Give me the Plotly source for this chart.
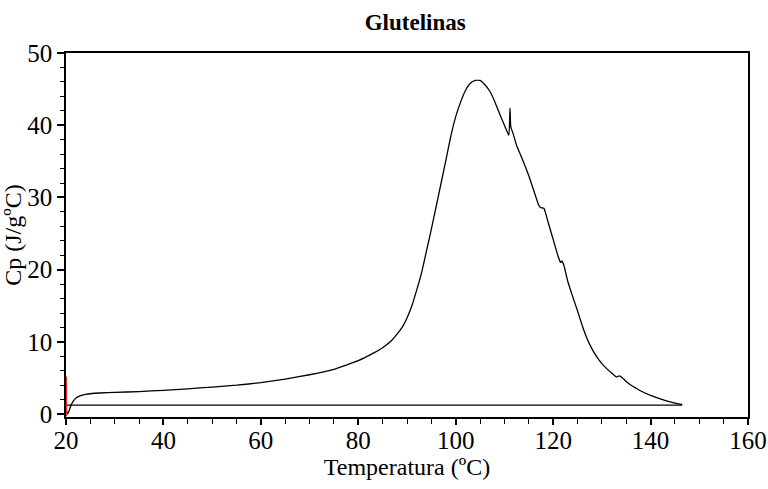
import plotly.graph_objects as go

# Cp curve
temp = [20.0, 20.15, 20.35, 20.6, 21.0, 21.5, 22.0, 23.0, 24.0, 25.0, 27.0, 30.0,
        35.0, 40.0, 45.0, 50.0, 55.0, 60.0, 65.0, 70.0, 75.0, 80.0, 83.0, 85.0,
        87.0, 89.0, 90.0, 91.0, 92.0, 93.0, 94.0, 95.0, 96.0, 97.0, 98.0, 99.0,
        100.0, 101.0, 102.0, 103.0, 104.0, 105.0, 106.0, 107.0, 108.0, 109.0,
        110.0, 110.9, 111.15, 111.3, 111.8, 112.5, 113.5, 115.0, 116.0, 117.0,
        117.4, 118.1, 119.0, 120.0, 121.0, 121.5, 121.8, 122.2, 123.0, 124.0,
        125.0, 126.0, 127.0, 128.0, 129.0, 130.0, 131.0, 132.0, 133.0, 133.6,
        134.2, 135.0, 136.0, 137.0, 138.0, 140.0, 142.0, 144.0, 146.5]
cp = [1.0, 0.3, 0.05, 0.4, 1.2, 1.8, 2.2, 2.55, 2.72, 2.82, 2.92, 3.0,
      3.12, 3.3, 3.5, 3.75, 4.0, 4.35, 4.85, 5.45, 6.2, 7.4, 8.4, 9.2,
      10.3, 12.0, 13.3, 15.0, 17.2, 19.6, 22.6, 25.6, 28.8, 32.0, 35.2, 38.5,
      41.2, 43.2, 44.8, 45.8, 46.2, 46.2, 45.6, 44.7, 43.3, 41.6,
      40.0, 38.6, 42.4, 39.8, 38.8, 37.2, 35.6, 33.0, 31.0, 29.0,
      28.6, 28.5, 26.5, 24.2, 21.9, 21.0, 21.2, 20.6, 18.4, 16.3,
      14.3, 12.2, 10.4, 9.0, 7.9, 7.0, 6.3, 5.7, 5.15, 5.3,
      5.05, 4.5, 4.0, 3.6, 3.2, 2.6, 2.1, 1.7, 1.3]

baseline_x = [20.0, 146.5]
baseline_y = [1.25, 1.25]

marker_x = [20.0, 20.0]
marker_y = [-0.3, 5.2]

x_ticks = [20, 40, 60, 80, 100, 120, 140, 160]
y_ticks = [0, 10, 20, 30, 40, 50]

FONT = "Liberation Serif"

fig = go.Figure()
fig.add_trace(go.Scatter(x=baseline_x, y=baseline_y, mode="lines",
                         line=dict(color="black", width=1.3), hoverinfo="skip"))
fig.add_trace(go.Scatter(x=temp, y=cp, mode="lines",
                         line=dict(color="black", width=1.3, shape="spline", smoothing=0.4)))
fig.add_trace(go.Scatter(x=marker_x, y=marker_y, mode="lines",
                         line=dict(color="#ff2020", width=2), hoverinfo="skip"))

fig.update_layout(
    width=768, height=489,
    margin=dict(l=66, r=20, t=53, b=72),
    paper_bgcolor="white", plot_bgcolor="white",
    showlegend=False,
    font=dict(family=FONT, color="black"),
    title=dict(text="<b>Glutelinas</b>", xref="paper", x=0.512, xanchor="center",
               yref="container", y=0.955, yanchor="middle",
               font=dict(family=FONT, size=23, color="black")),
)
fig.update_xaxes(
    range=[20, 160], tickvals=x_ticks, ticktext=[str(v) for v in x_ticks],
    automargin=False,
    showgrid=False, zeroline=False,
    showline=True, linecolor="black", linewidth=1.5, mirror=True,
    ticks="outside", ticklen=6, tickwidth=1.5, tickcolor="black",
    ticklabelstandoff=-6,
    minor=dict(dtick=5, ticks="outside", ticklen=5, tickwidth=1.2, tickcolor="black"),
    tickfont=dict(family=FONT, size=25, color="black"),
    title=dict(text="Temperatura (ºC)", standoff=2,
               font=dict(family=FONT, size=24, color="black")),
)
fig.update_yaxes(
    range=[-0.4, 50], tickvals=y_ticks, ticktext=[str(v) for v in y_ticks],
    automargin=False,
    showgrid=False, zeroline=False,
    showline=True, linecolor="black", linewidth=1.5, mirror=True,
    ticks="outside", ticklen=7, tickwidth=1.5, tickcolor="black",
    minor=dict(dtick=2, ticks="outside", ticklen=4, tickwidth=1.2, tickcolor="black"),
    tickfont=dict(family=FONT, size=25, color="black"),
    title=dict(text="Cp (J/gºC)", standoff=0,
               font=dict(family=FONT, size=24, color="black")),
)

fig.write_html("out.html")
